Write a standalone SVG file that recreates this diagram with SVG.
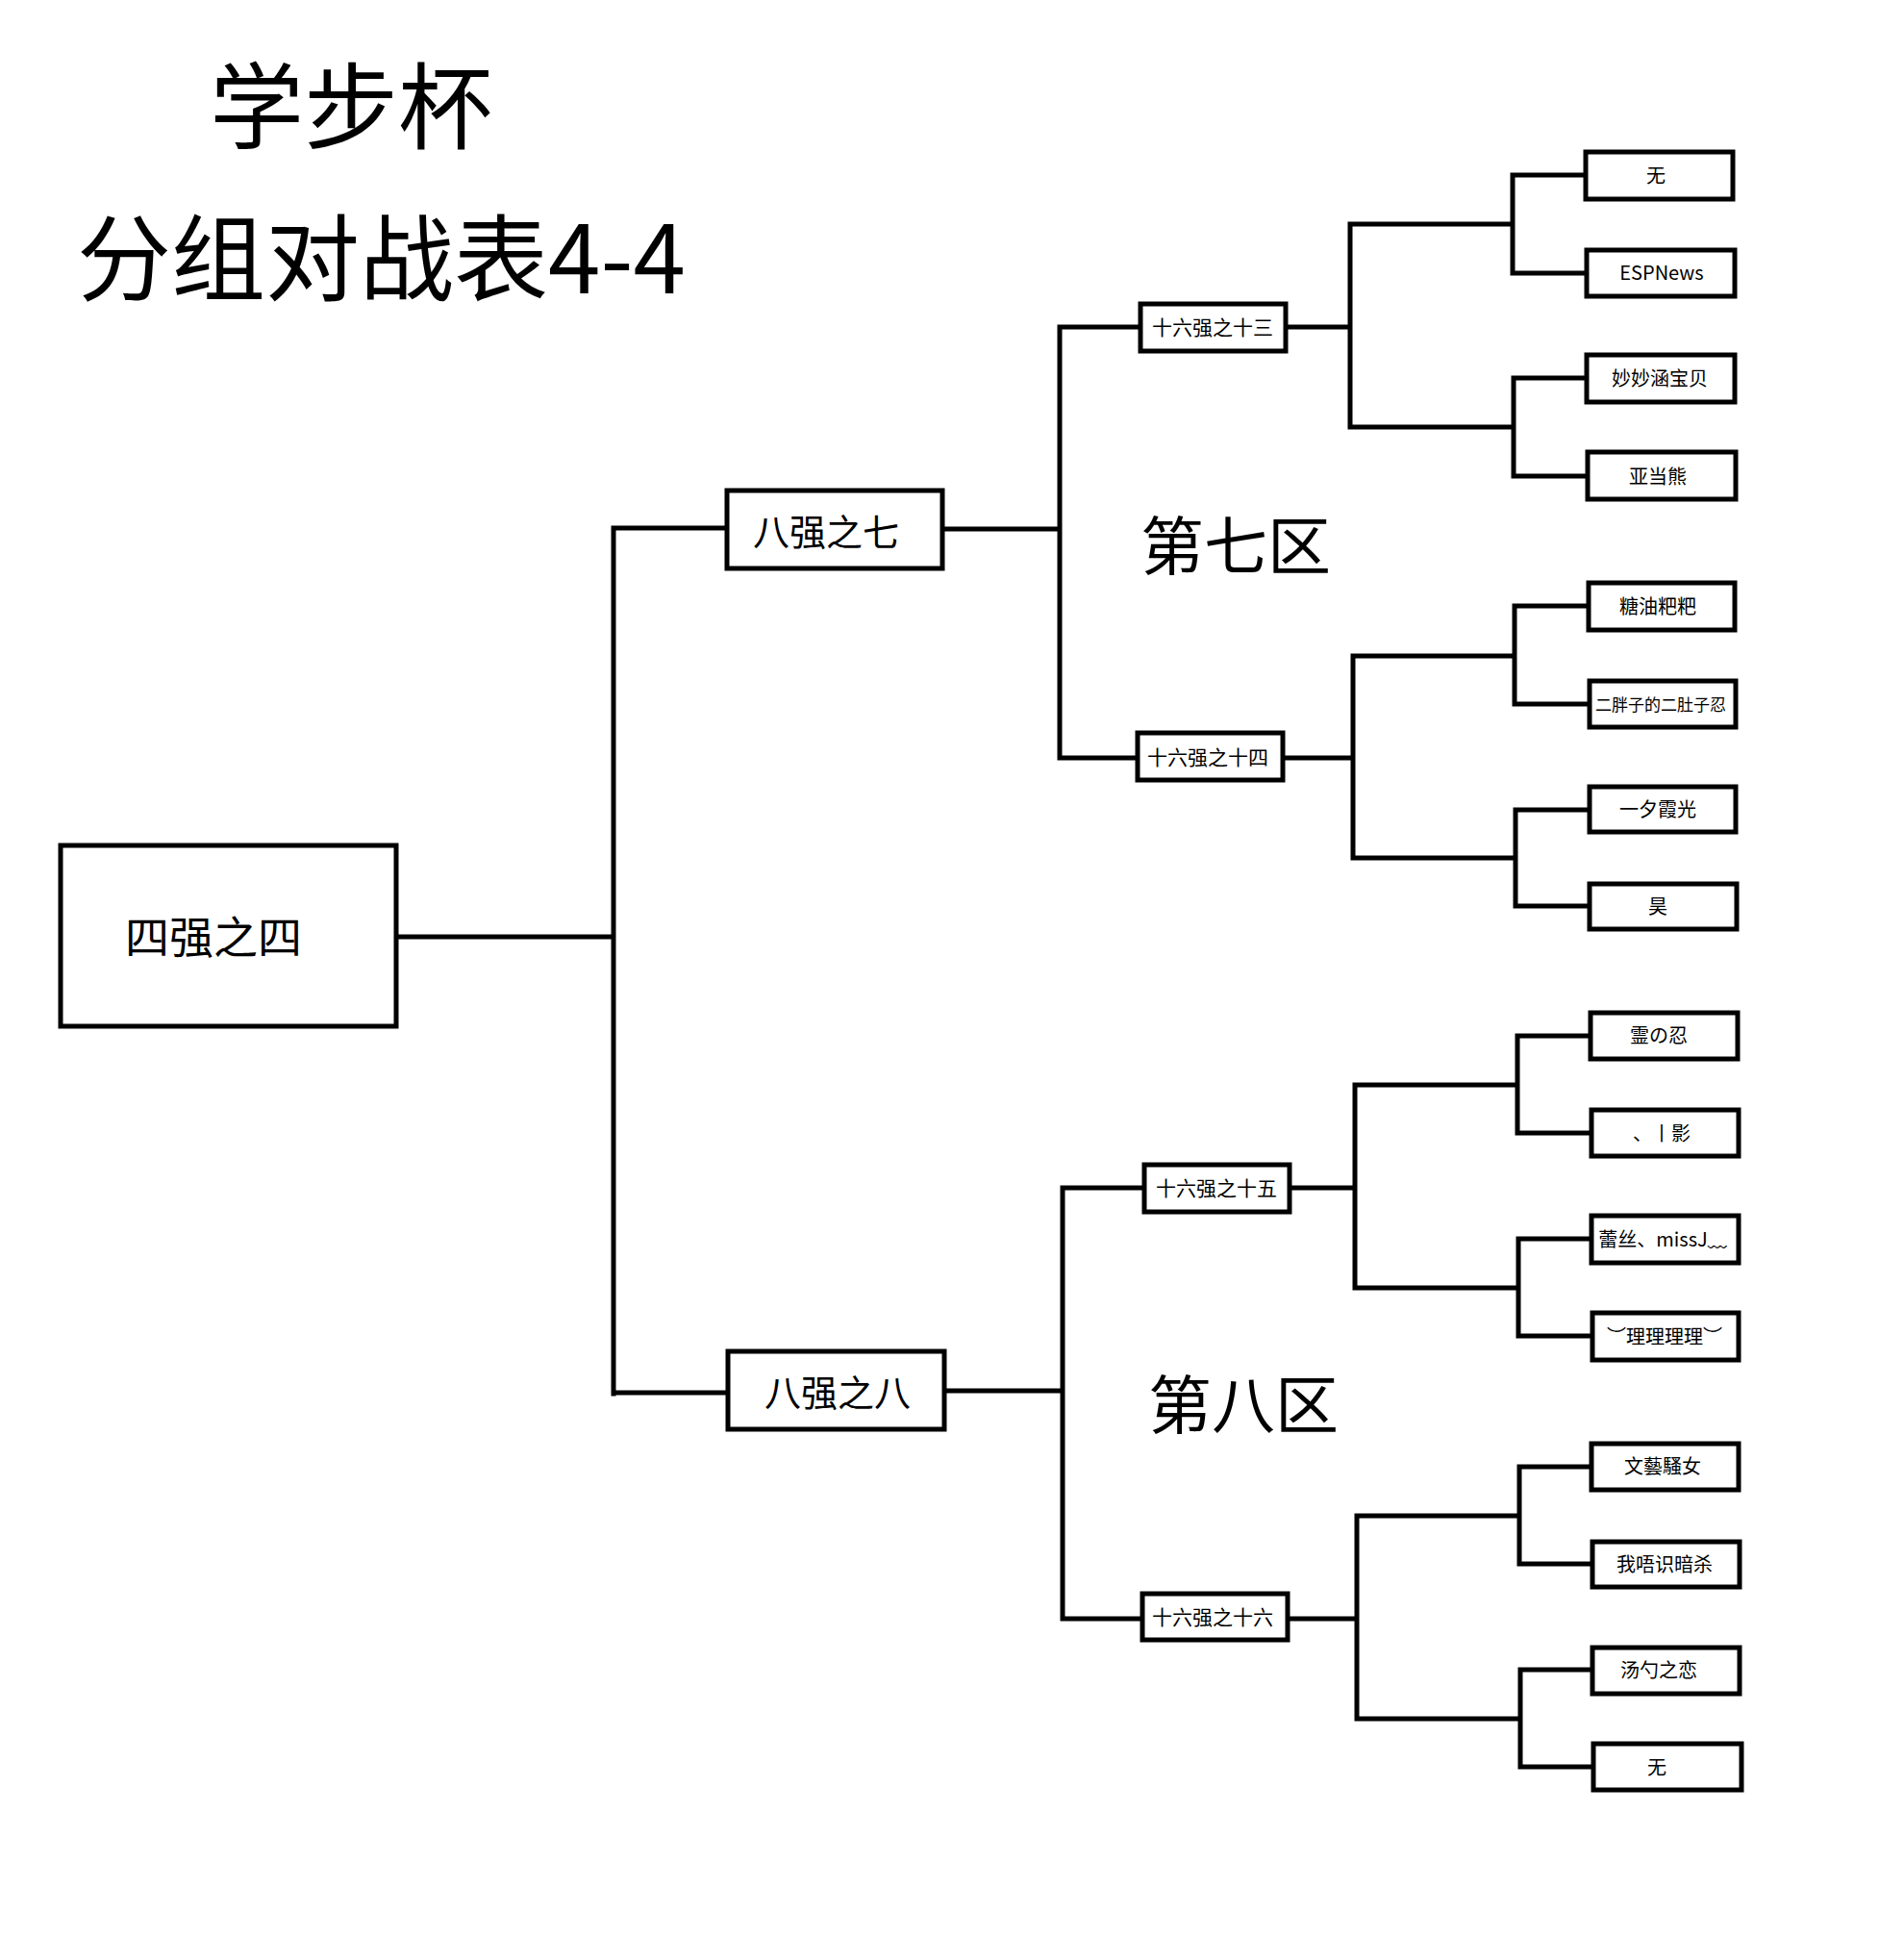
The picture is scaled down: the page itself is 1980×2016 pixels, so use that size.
<svg xmlns="http://www.w3.org/2000/svg" width="1980" height="2016" viewBox="0 0 1980 2016">
<style>
text{font-family:"Noto Sans CJK SC","Noto Sans",sans-serif;fill:#000;text-anchor:middle}
.box{fill:#fff;stroke:#000;stroke-width:5}
.ln{fill:none;stroke:#000;stroke-width:5;stroke-linecap:square}
.t1{font-size:98px}
.zone{font-size:66px}
.r4{font-size:46px}
.r8{font-size:38px}
.r16{font-size:21px}
.p{font-size:20px}
</style>
<rect width="1980" height="2016" fill="#fff"/>
<g id="title">
<text class="t1" x="365" y="147">学步杯</text>
<text class="t1" x="80" y="305" style="text-anchor:start">分组对战表4-4</text>
</g>
<g id="connectors">
<path class="ln" d="M414 974H638M638 549V1449M638 549H754M638 1448H755"/>
<path class="ln" d="M982 550H1102M1102 340V788M1102 340H1185M1102 788H1182"/>
<path class="ln" d="M1339 340H1404M1404 233V444M1404 233H1573M1404 444H1574M1573 182V284M1573 182H1647M1573 284H1648M1574 393V495M1574 393H1648M1574 495H1649"/>
<path class="ln" d="M1336 788H1407M1407 682V892M1407 682H1575M1407 892H1576M1575 630V732M1575 630H1650M1575 732H1651M1576 842V942M1576 842H1651M1576 942H1651"/>
<path class="ln" d="M984 1446H1105M1105 1235V1683M1105 1235H1188M1105 1683H1186"/>
<path class="ln" d="M1343 1235H1409M1409 1128V1339M1409 1128H1578M1409 1339H1579M1578 1077V1178M1578 1077H1652M1578 1178H1653M1579 1288V1389M1579 1288H1653M1579 1389H1654"/>
<path class="ln" d="M1341 1683H1411M1411 1576V1787M1411 1576H1580M1411 1787H1581M1580 1525V1626M1580 1525H1653M1580 1626H1654M1581 1736V1837M1581 1736H1654M1581 1837H1655"/>
</g>
<g id="zones">
<text class="zone" x="1285" y="592">第七区</text>
<text class="zone" x="1293" y="1485">第八区</text>
</g>
<g id="semi4"><rect class="box" x="63" y="879" width="349" height="188"/><text class="r4" x="222" y="991">四强之四</text></g>
<g id="qf7"><rect class="box" x="756" y="510" width="224" height="81"/><text class="r8" x="859" y="567">八强之七</text></g>
<g id="qf8"><rect class="box" x="757" y="1405" width="225" height="81"/><text class="r8" x="871" y="1462">八强之八</text></g>
<g id="r13"><rect class="box" x="1186" y="316" width="151" height="49"/><text class="r16" x="1261" y="348">十六强之十三</text></g>
<g id="r14"><rect class="box" x="1183" y="762" width="151" height="49"/><text class="r16" x="1256" y="795">十六强之十四</text></g>
<g id="r15"><rect class="box" x="1190" y="1211" width="151" height="49"/><text class="r16" x="1265" y="1243">十六强之十五</text></g>
<g id="r16"><rect class="box" x="1188" y="1657" width="151" height="48"/><text class="r16" x="1261" y="1689">十六强之十六</text></g>
<g id="p1"><rect class="box" x="1649" y="158" width="153" height="49"/><text class="p" x="1722" y="190">无</text></g>
<g id="p2"><rect class="box" x="1650" y="260" width="154" height="48"/><text class="p" x="1728" y="291">ESPNews</text></g>
<g id="p3"><rect class="box" x="1650" y="369" width="154" height="49"/><text class="p" x="1726" y="401">妙妙涵宝贝</text></g>
<g id="p4"><rect class="box" x="1651" y="470" width="154" height="49"/><text class="p" x="1724" y="503">亚当熊</text></g>
<g id="p5"><rect class="box" x="1652" y="606" width="152" height="49"/><text class="p" x="1724" y="638">糖油粑粑</text></g>
<g id="p6"><rect class="box" x="1653" y="708" width="152" height="48"/><text class="p" x="1727" y="739" style="font-size:17px">二胖子的二肚子忍</text></g>
<g id="p7"><rect class="box" x="1653" y="818" width="152" height="47"/><text class="p" x="1724" y="849">一夕霞光</text></g>
<g id="p8"><rect class="box" x="1653" y="919" width="153" height="47"/><text class="p" x="1724" y="950">昊</text></g>
<g id="p9"><rect class="box" x="1654" y="1053" width="153" height="48"/><text class="p" x="1725" y="1084">霊の忍</text></g>
<g id="p10"><rect class="box" x="1655" y="1154" width="153" height="48"/><text class="p" x="1728" y="1186">、丨影</text></g>
<g id="p11"><rect class="box" x="1655" y="1264" width="153" height="49"/><text class="p" x="1729" y="1296">蕾丝、missJ﹏</text></g>
<g id="p12"><rect class="box" x="1656" y="1365" width="152" height="49"/><text class="p" x="1731" y="1397">︶理理理理︶</text></g>
<g id="p13"><rect class="box" x="1655" y="1501" width="153" height="48"/><text class="p" x="1729" y="1532">文藝騷女</text></g>
<g id="p14"><rect class="box" x="1656" y="1603" width="153" height="47"/><text class="p" x="1731" y="1634">我唔识暗杀</text></g>
<g id="p15"><rect class="box" x="1656" y="1713" width="153" height="48"/><text class="p" x="1725" y="1744">汤勺之恋</text></g>
<g id="p16"><rect class="box" x="1657" y="1813" width="154" height="48"/><text class="p" x="1723" y="1845">无</text></g>
</svg>
